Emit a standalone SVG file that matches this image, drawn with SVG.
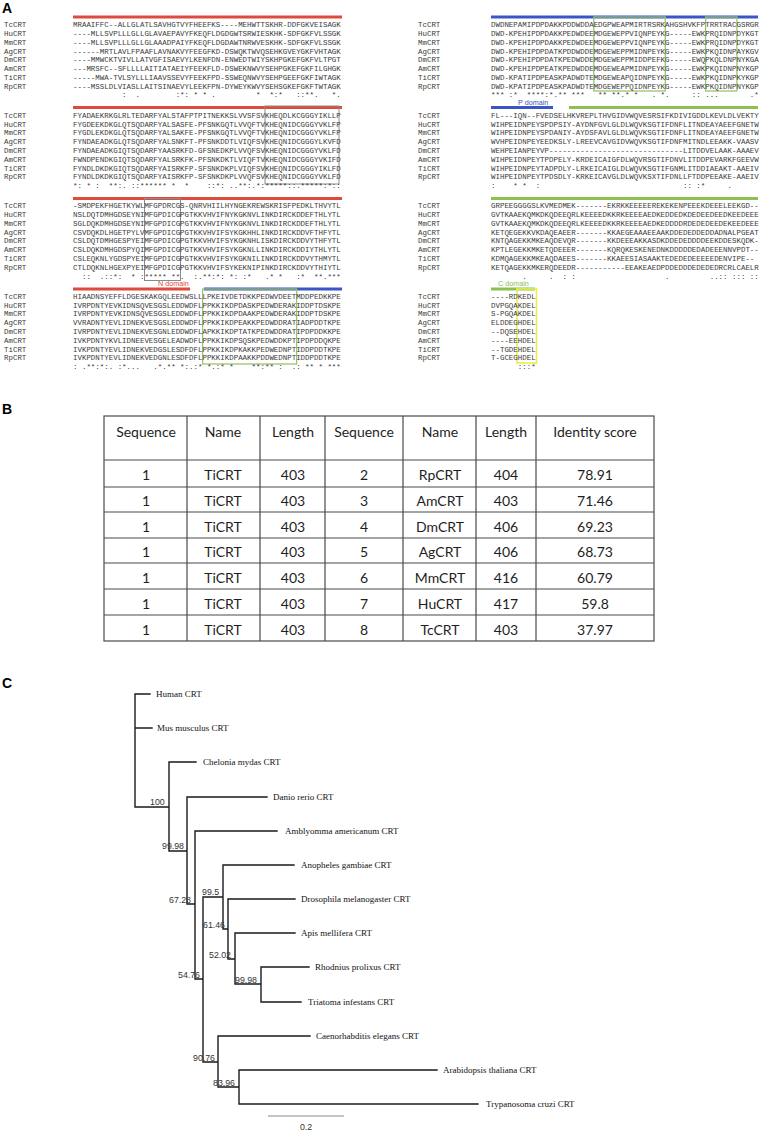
<svg xmlns="http://www.w3.org/2000/svg" width="760" height="1131" viewBox="0 0 760 1131" xml:space="preserve">
<style>
.s{font-family:"Liberation Mono","Courier New",monospace;font-size:7.45px;fill:#3a3a3a;white-space:pre}
.pl{font-family:"Liberation Sans",Arial,sans-serif;font-weight:bold;font-size:14px;fill:#000}
.dl{font-family:"Liberation Sans",Arial,sans-serif;font-size:7.2px}
.t{font-family:Lato,"Liberation Sans",sans-serif;font-size:14px;fill:#1e1e1e;text-anchor:middle}
.tl{stroke:#4a4a4a;stroke-width:1.2;fill:none}
.lf{font-family:"Liberation Serif","Times New Roman",serif;font-size:9px;fill:#111}
.bs{font-family:"Liberation Sans",Arial,sans-serif;font-size:8.8px;fill:#333}
.br{stroke:#1a1a1a;stroke-width:1.4;fill:none;stroke-linecap:square}
.red{fill:#de4a3c}.blue{fill:#3c55c4}.green{fill:#8cc152}
.gbox{fill:none;stroke:#9cc46c;stroke-width:1.3}
.kbox{fill:none;stroke:#8a8a8a;stroke-width:1}
.ybox{fill:none;stroke:#ecec50;stroke-width:1.6}
</style>
<rect width="760" height="1131" fill="#fff"/>

<g id="panelA">
<text class="pl" x="2" y="13">A</text>
<g id="domain-bars">
<rect class="red" x="73" y="15.5" width="269" height="3"/>
<rect class="red" x="73" y="106" width="269" height="3"/>
<rect class="red" x="73" y="197" width="269" height="3"/>
<rect class="red" x="73" y="287.5" width="117" height="3"/>
<rect class="blue" x="204" y="287.5" width="138" height="3"/>
<rect class="blue" x="491" y="15.5" width="267" height="3"/>
<rect class="blue" x="491" y="106" width="62" height="3"/>
<rect class="green" x="569" y="106" width="189" height="3"/>
<rect class="green" x="491" y="197" width="267" height="3"/>
<rect class="green" x="491" y="287.5" width="44" height="3"/>
<text class="dl" x="158" y="286" fill="#de4a3c">N domain</text>
<text class="dl" x="518" y="104.6" fill="#3c55c4">P domain</text>
<text class="dl" x="498" y="286" fill="#8cc152">C domain</text>
</g>
<g id="motif-boxes">
<rect class="kbox" x="265" y="106" width="74" height="78"/>
<rect class="kbox" x="144.5" y="198.5" width="36" height="82"/>
<rect class="gbox" x="202.6" y="289" width="94" height="75"/>
<rect class="gbox" x="593.8" y="17" width="71.5" height="74"/>
<rect class="gbox" x="705.6" y="17" width="31.3" height="74"/>
<rect class="ybox" x="517" y="289" width="19.5" height="74"/>
</g>

<g id="alignL1">
<text class="s" x="4" y="27.2">TcCRT</text><text class="s" x="73" y="27.2">MRAAIFFC--ALLGLATLSAVHGTVYFHEEFKS----MEHWTTSKHR-DDFGKVEISAGK</text>
<text class="s" x="4" y="36">HuCRT</text><text class="s" x="73" y="36">----MLLSVPLLLGLLGLAVAEPAVYFKEQFLDGDGWTSRWIESKHK-SDFGKFVLSSGK</text>
<text class="s" x="4" y="44.8">MmCRT</text><text class="s" x="73" y="44.8">----MLLSVPLLLGLLGLAAADPAIYFKEQFLDGDAWTNRWVESKHK-SDFGKFVLSSGK</text>
<text class="s" x="4" y="53.6">AgCRT</text><text class="s" x="73" y="53.6">------MRTLAVLFPAAFLAVNAKVYFEEGFKD-DSWQKTWVQSEHKGVEYGKFVHTAGK</text>
<text class="s" x="4" y="62.4">DmCRT</text><text class="s" x="73" y="62.4">----MMWCKTVIVLLATVGFISAEVYLKENFDN-ENWEDTWIYSKHPGKEFGKFVLTPGT</text>
<text class="s" x="4" y="71.2">AmCRT</text><text class="s" x="73" y="71.2">---MRSFC--SFLLLLAITIATAEIYFEEKFLD-DSWEKNWVYSEHPGKEFGKFILGHGK</text>
<text class="s" x="4" y="80">TiCRT</text><text class="s" x="73" y="80">-----MWA-TVLSYLLLIAAVSSEVYFEEKFPD-SSWEQNWVYSEHPGEEFGKFIWTAGK</text>
<text class="s" x="4" y="88.8">RpCRT</text><text class="s" x="73" y="88.8">----MSSLDLVIASLLAITSINAEVYLEEKFPN-DYWEYKWVYSEHSGKEFGKFTWTAGK</text>
<text class="s" x="73" y="97">           :  .        :*: * * .         *  *:*   ::**.   *.</text>
</g>

<g id="alignL2">
<text class="s" x="4" y="117.7">TcCRT</text><text class="s" x="73" y="117.7">FYADAEKRKGLRLTEDARFYALSTAFPTPITNEKKSLVVSFSVKHEQDLKCGGGYIKLLP</text>
<text class="s" x="4" y="126.5">HuCRT</text><text class="s" x="73" y="126.5">FYGDEEKDKGLQTSQDARFYALSASFE-PFSNKGQTLVVQFTVKHEQNIDCGGGYVKLFP</text>
<text class="s" x="4" y="135.3">MmCRT</text><text class="s" x="73" y="135.3">FYGDLEKDKGLQTSQDARFYALSAKFE-PFSNKGQTLVVQFTVKHEQNIDCGGGYVKLFP</text>
<text class="s" x="4" y="144.1">AgCRT</text><text class="s" x="73" y="144.1">FYNDAEADKGLQTSQDARFYALSNKFT-PFSNKDDTLVIQFSVKHEQNIDCGGGYLKVFD</text>
<text class="s" x="4" y="152.9">DmCRT</text><text class="s" x="73" y="152.9">FYNDAEADKGIQTSQDARFYAASRKFD-GFSNEDKPLVVQFSVKHEQNIDCGGGYVKLFD</text>
<text class="s" x="4" y="161.7">AmCRT</text><text class="s" x="73" y="161.7">FWNDPENDKGIQTSQDARFYALSRKFK-PFSNKDKTLVIQFTVKHEQNIDCGGGYVKIFD</text>
<text class="s" x="4" y="170.5">TiCRT</text><text class="s" x="73" y="170.5">FYNDLDKDKGIQTSQDARFYAISRKFP-SFSNKDKPLVIQFSVKHEQNIDCGGGYIKLFD</text>
<text class="s" x="4" y="179.3">RpCRT</text><text class="s" x="73" y="179.3">FYNDLDKDKGIQTSQDARFYAISRKFP-SFSNKDKPLVVQFSVKHEQNIDCGGGYVKLFD</text>
<text class="s" x="73" y="188.1">*: * :  **:. ::****** *  *    ::*: ..**:.*:*****::.*****:*::</text>
</g>

<g id="alignL3">
<text class="s" x="4" y="208.2">TcCRT</text><text class="s" x="73" y="208.2">-SMDPEKFHGETKYWLMFGPDRCGS-QNRVHIILHYNGEKREWSKRISFPEDKLTHVYTL</text>
<text class="s" x="4" y="217">HuCRT</text><text class="s" x="73" y="217">NSLDQTDMHGDSEYNIMFGPDICGPGTKKVHVIFNYKGKNVLINKDIRCKDDEFTHLYTL</text>
<text class="s" x="4" y="225.8">MmCRT</text><text class="s" x="73" y="225.8">SGLDQKDMHGDSEYNIMFGPDICGPGTKKVHVIFNYKGKNVLINKDIRCKDDEFTHLYTL</text>
<text class="s" x="4" y="234.6">AgCRT</text><text class="s" x="73" y="234.6">CSVDQKDLHGETPYLVMFGPDICGPGTKKVHVIFSYKGKHHLINKDIRCKDDVFTHFYTL</text>
<text class="s" x="4" y="243.4">DmCRT</text><text class="s" x="73" y="243.4">CSLDQTDMHGESPYEIMFGPDICGPGTKKVHVIFSYKGKNHLISKDIRCKDDVYTHFYTL</text>
<text class="s" x="4" y="252.2">AmCRT</text><text class="s" x="73" y="252.2">CSLDQKDMHGDSPYQIMFGPDICGPGTKKVHVIFSYKGKNLLINKDIRCKDDIYTHLYTL</text>
<text class="s" x="4" y="261">TiCRT</text><text class="s" x="73" y="261">CSLEQKNLYGDSPYEIMFGPDICGPGTKKVHVIFSYKGKNILINKDIRCKDDVYTHMYTL</text>
<text class="s" x="4" y="269.8">RpCRT</text><text class="s" x="73" y="269.8">CTLDQKNLHGEXPYEIMFGPDICGPGTKKVHVIFSYKEKNIPINKDIRCKDDVYTHIYTL</text>
<text class="s" x="73" y="278.6">  ::  .::*:  * :***** **.  :.**:*: *: :*   .* *   :*  **.***</text>
</g>

<g id="alignL4">
<text class="s" x="4" y="298.7">TcCRT</text><text class="s" x="73" y="298.7">HIAADNSYEFFLDGESKAKGQLEEDWSLLLPKEIVDETDKKPEDWVDEETMDDPEDKKPE</text>
<text class="s" x="4" y="307.5">HuCRT</text><text class="s" x="73" y="307.5">IVRPDNTYEVKIDNSQVESGSLEDDWDFLPPKKIKDPDASKPEDWDERAKIDDPTDSKPE</text>
<text class="s" x="4" y="316.3">MmCRT</text><text class="s" x="73" y="316.3">IVRPDNTYEVKIDNSQVESGSLEDDWDFLPPKKIKDPDAAKPEDWDERAKIDDPTDSKPE</text>
<text class="s" x="4" y="325.1">AgCRT</text><text class="s" x="73" y="325.1">VVRADNTYEVLIDNEKVESGSLEDDWDFLPPKKIKDPEAKKPEDWDDRATIADPDDTKPE</text>
<text class="s" x="4" y="333.9">DmCRT</text><text class="s" x="73" y="333.9">IVRPDNTYEVLIDNEKVESGNLEDDWDFLAPKKIKDPTATKPEDWDDRATIPDPDDKKPE</text>
<text class="s" x="4" y="342.7">AmCRT</text><text class="s" x="73" y="342.7">IVKPDNTYKVLIDNEEVESGELEADWDFLPPKKIKDPSQSKPEDWDDKPTIPDPDDQKPE</text>
<text class="s" x="4" y="351.5">TiCRT</text><text class="s" x="73" y="351.5">IVKPDNTYEVLIDNEKVEDGSLESDFDFLPPKKIKDPKAKKPEDWEDNPTIDDPDDTKPE</text>
<text class="s" x="4" y="360.3">RpCRT</text><text class="s" x="73" y="360.3">IVKPDNTYEVLIDNEKVEDGNLESDFDFLPPKKIKDPAAKKPDDWEDNPTIDDPDDTKPE</text>
<text class="s" x="73" y="369.1">: .**:*:. :*...   .*.** *:.:* *.:* *    **:** :  .: ** * ***</text>
</g>

<g id="alignR1">
<text class="s" x="418" y="27.2">TcCRT</text><text class="s" x="491" y="27.2">DWDNEPAMIPDPDAKKPDDWDDAEDGPWEAPMIRTRSRKAHGSHVKFPTRRTRACGSRGR</text>
<text class="s" x="418" y="36">HuCRT</text><text class="s" x="491" y="36">DWD-KPEHIPDPDAKKPEDWDEEMDGEWEPPVIQNPEYKG-----EWKPRQIDNPDYKGT</text>
<text class="s" x="418" y="44.8">MmCRT</text><text class="s" x="491" y="44.8">DWD-KPEHIPDPDAKKPEDWDEEMDGEWEPPVIQNPEYKG-----EWKPRQIDNPDYKGT</text>
<text class="s" x="418" y="53.6">AgCRT</text><text class="s" x="491" y="53.6">DWD-KPEHIPDPDATKPDDWDDEMDGEWEPPMIDNPEYKG-----EWKPKQIDNPAYKGV</text>
<text class="s" x="418" y="62.4">DmCRT</text><text class="s" x="491" y="62.4">DWD-KPEHIPDPDATKPEDWDDEMDGEWEPPMIDDPEFKG-----EWQPKQLDNPNYKGA</text>
<text class="s" x="418" y="71.2">AmCRT</text><text class="s" x="491" y="71.2">DWD-KPEHIPDPEATKPEDWDDEMDGEWEAPMIDNPEYKG-----EWKPKQIDNPNYKGP</text>
<text class="s" x="418" y="80">TiCRT</text><text class="s" x="491" y="80">DWD-KPATIPDPEASKPADWDTEMDGEWEAPQIDNPEYKG-----EWKPKQIDNPKYKGP</text>
<text class="s" x="418" y="88.8">RpCRT</text><text class="s" x="491" y="88.8">DWD-KPATIPDPEASKPADWDTEMDGEWEPPQIDNPEYKG-----EWKPKQIDNPNYKGP</text>
<text class="s" x="491" y="97">*** :*  ****:*.** ***   ** **.* *   . *.     :: ...       .*</text>
</g>

<g id="alignR2">
<text class="s" x="418" y="117.7">TcCRT</text><text class="s" x="491" y="117.7">FL---IQN--FVEDSELHKVREPLTHVGIDVWQVESRSIFKDIVIGDDLKEVLDLVEKTY</text>
<text class="s" x="418" y="126.5">HuCRT</text><text class="s" x="491" y="126.5">WIHPEIDNPEYSPDPSIY-AYDNFGVLGLDLWQVKSGTIFDNFLITNDEAYAEEFGNETW</text>
<text class="s" x="418" y="135.3">MmCRT</text><text class="s" x="491" y="135.3">WIHPEIDNPEYSPDANIY-AYDSFAVLGLDLWQVKSGTIFDNFLITNDEAYAEEFGNETW</text>
<text class="s" x="418" y="144.1">AgCRT</text><text class="s" x="491" y="144.1">WVHPEIDNPEYEEDKSLY-LREEVCAVGIDVWQVKSGTIFDNFMITNDLEEAKK-VAASV</text>
<text class="s" x="418" y="152.9">DmCRT</text><text class="s" x="491" y="152.9">WEHPEIANPEYVP------------------------------LITDDVELAAK-AAAEV</text>
<text class="s" x="418" y="161.7">AmCRT</text><text class="s" x="491" y="161.7">WIHPEIDNPEYTPDPELY-KRDEICAIGFDLWQVRSGTIFDNVLITDDPEVARKFGEEVW</text>
<text class="s" x="418" y="170.5">TiCRT</text><text class="s" x="491" y="170.5">WIHPEIDNPEYTADPDLY-LRKEICAIGLDLWQVKSGTIFGNMLITDDIAEAKT-AAEIV</text>
<text class="s" x="418" y="179.3">RpCRT</text><text class="s" x="491" y="179.3">WIHPEIDNPEYTPDSDLY-KRKEICAVGLDLWQVKSXTIFDNLLFTDDPEEAKE-AAEIV</text>
<text class="s" x="491" y="188.1">:    * *  :                                :: :*     .</text>
</g>

<g id="alignR3">
<text class="s" x="418" y="208.2">TcCRT</text><text class="s" x="491" y="208.2">GRPEEGGGGSLKVMEDMEK-------EKRKKEEEEEREKEKENPEEEKDEEELEEKGD--</text>
<text class="s" x="418" y="217">HuCRT</text><text class="s" x="491" y="217">GVTKAAEKQMKDKQDEEQRLKEEEEDKKRKEEEEAEDKEDDEDKDEDEEDEEDKEEDEEE</text>
<text class="s" x="418" y="225.8">MmCRT</text><text class="s" x="491" y="225.8">GVTKAAEKQMKDKQDEEQRLKEEEEDKKRKEEEEAEDKEDDDDRDEDEDEEDEKEEDEEE</text>
<text class="s" x="418" y="234.6">AgCRT</text><text class="s" x="491" y="234.6">KETQEGEKKVKDAQEAEER-------KKAEGEAAAEEAAKDDEDEDDEDDADNALPGEAT</text>
<text class="s" x="418" y="243.4">DmCRT</text><text class="s" x="491" y="243.4">KNTQAGEKKMKEAQDEVQR-------KKDEEEAKKASDKDDEDEDDDDEEKDDESKQDK-</text>
<text class="s" x="418" y="252.2">AmCRT</text><text class="s" x="491" y="252.2">KPTLEGEKKMKETQDEEER-------KQRQKESKENEDNKDDDDDEDADEEENNVPDT--</text>
<text class="s" x="418" y="261">TiCRT</text><text class="s" x="491" y="261">KDMQAGEKKMKEAQDAEES-------KKAEESIASAAKTEDEDEDEEEEEDENVIPE--</text>
<text class="s" x="418" y="269.8">RpCRT</text><text class="s" x="491" y="269.8">KETQAGEKKMKERQDEEDR-----------EEAKEAEDPDDEDDDEDEDEDRCRLCAELR</text>
<text class="s" x="491" y="278.6">       .     .  : :                    .         ..:: ::: ::</text>
</g>

<g id="alignR4">
<text class="s" x="418" y="298.7">TcCRT</text><text class="s" x="491" y="298.7">----RDKEDL</text>
<text class="s" x="418" y="307.5">HuCRT</text><text class="s" x="491" y="307.5">DVPGQAKDEL</text>
<text class="s" x="418" y="316.3">MmCRT</text><text class="s" x="491" y="316.3">S-PGQAKDEL</text>
<text class="s" x="418" y="325.1">AgCRT</text><text class="s" x="491" y="325.1">ELDDEGHDEL</text>
<text class="s" x="418" y="333.9">DmCRT</text><text class="s" x="491" y="333.9">--DQSEHDEL</text>
<text class="s" x="418" y="342.7">AmCRT</text><text class="s" x="491" y="342.7">----EEHDEL</text>
<text class="s" x="418" y="351.5">TiCRT</text><text class="s" x="491" y="351.5">--TGDEHDEL</text>
<text class="s" x="418" y="360.3">RpCRT</text><text class="s" x="491" y="360.3">T-GCEGHDEL</text>
<text class="s" x="491" y="369.1">      :::*</text>
</g>
</g>

<g id="panelB">
<text class="pl" x="2" y="414">B</text>
<g id="table-grid">
<rect class="tl" x="104" y="416" width="550" height="225"/>
<path class="tl" d="M187 416V641M260 416V641M325 416V641M403 416V641M476 416V641M536 416V641M104 460H654M104 487H654M104 512H654M104 538H654M104 563H654M104 589H654M104 615H654"/>
</g>
<g id="table-header">
<text class="t" x="146" y="437">Sequence</text><text class="t" x="223" y="437">Name</text><text class="t" x="293" y="437">Length</text><text class="t" x="364" y="437">Sequence</text><text class="t" x="440" y="437">Name</text><text class="t" x="506" y="437">Length</text><text class="t" x="595" y="437">Identity score</text>
</g>
<g id="table-rows">
<text class="t" x="146" y="480">1</text><text class="t" x="223" y="480">TiCRT</text><text class="t" x="293" y="480">403</text><text class="t" x="364" y="480">2</text><text class="t" x="440" y="480">RpCRT</text><text class="t" x="506" y="480">404</text><text class="t" x="595" y="480">78.91</text>
<text class="t" x="146" y="506">1</text><text class="t" x="223" y="506">TiCRT</text><text class="t" x="293" y="506">403</text><text class="t" x="364" y="506">3</text><text class="t" x="440" y="506">AmCRT</text><text class="t" x="506" y="506">403</text><text class="t" x="595" y="506">71.46</text>
<text class="t" x="146" y="531.5">1</text><text class="t" x="223" y="531.5">TiCRT</text><text class="t" x="293" y="531.5">403</text><text class="t" x="364" y="531.5">4</text><text class="t" x="440" y="531.5">DmCRT</text><text class="t" x="506" y="531.5">406</text><text class="t" x="595" y="531.5">69.23</text>
<text class="t" x="146" y="557">1</text><text class="t" x="223" y="557">TiCRT</text><text class="t" x="293" y="557">403</text><text class="t" x="364" y="557">5</text><text class="t" x="440" y="557">AgCRT</text><text class="t" x="506" y="557">406</text><text class="t" x="595" y="557">68.73</text>
<text class="t" x="146" y="582.5">1</text><text class="t" x="223" y="582.5">TiCRT</text><text class="t" x="293" y="582.5">403</text><text class="t" x="364" y="582.5">6</text><text class="t" x="440" y="582.5">MmCRT</text><text class="t" x="506" y="582.5">416</text><text class="t" x="595" y="582.5">60.79</text>
<text class="t" x="146" y="608.5">1</text><text class="t" x="223" y="608.5">TiCRT</text><text class="t" x="293" y="608.5">403</text><text class="t" x="364" y="608.5">7</text><text class="t" x="440" y="608.5">HuCRT</text><text class="t" x="506" y="608.5">417</text><text class="t" x="595" y="608.5">59.8</text>
<text class="t" x="146" y="634.5">1</text><text class="t" x="223" y="634.5">TiCRT</text><text class="t" x="293" y="634.5">403</text><text class="t" x="364" y="634.5">8</text><text class="t" x="440" y="634.5">TcCRT</text><text class="t" x="506" y="634.5">403</text><text class="t" x="595" y="634.5">37.97</text>
</g>
</g>

<g id="panelC">
<text class="pl" x="2" y="688">C</text>
<g id="connectors">
<path class="br" d="M135 694V807M135 694H150M135 728H152M135 807H169M169 762V851M169 762H196M169 851H187M187 797V904M187 797H267M187 904H195M195 831V979M195 831H277M195 979H203M203 897V1062M203 897H223M223 865V929M223 865H294M223 929H228M228 899V959M228 899H295M228 959H235M235 933V984M235 933H295M235 984H261M261 967V1002M261 967H309M261 1002H301M203 1062H218M218 1036V1087M218 1036H310M218 1087H239M239 1070V1104M239 1070H437M239 1104H478"/>
</g>
<g id="bootstrap">
<text class="bs" x="150" y="805">100</text>
<text class="bs" x="162" y="849">99.98</text>
<text class="bs" x="169" y="902.5">67.28</text>
<text class="bs" x="202" y="895">99.5</text>
<text class="bs" x="203" y="927.5">61.46</text>
<text class="bs" x="209" y="957.5">52.02</text>
<text class="bs" x="178" y="977.5">54.76</text>
<text class="bs" x="235" y="982.5">99.98</text>
<text class="bs" x="193" y="1060.5">90.76</text>
<text class="bs" x="213" y="1085.5">83.96</text>
</g>
<g id="leaf-human"><text class="lf" x="156" y="697">Human CRT</text></g>
<g id="leaf-mus"><text class="lf" x="157" y="731">Mus musculus CRT</text></g>
<g id="leaf-chelonia"><text class="lf" x="203" y="765">Chelonia mydas CRT</text></g>
<g id="leaf-danio"><text class="lf" x="273" y="800">Danio rerio CRT</text></g>
<g id="leaf-amblyomma"><text class="lf" x="285" y="834">Amblyomma americanum CRT</text></g>
<g id="leaf-anopheles"><text class="lf" x="301" y="868">Anopheles gambiae CRT</text></g>
<g id="leaf-drosophila"><text class="lf" x="301" y="902">Drosophila melanogaster CRT</text></g>
<g id="leaf-apis"><text class="lf" x="301" y="936">Apis mellifera CRT</text></g>
<g id="leaf-rhodnius"><text class="lf" x="315" y="970">Rhodnius prolixus CRT</text></g>
<g id="leaf-triatoma"><text class="lf" x="308" y="1005">Triatoma infestans CRT</text></g>
<g id="leaf-caenorhabditis"><text class="lf" x="316" y="1039">Caenorhabditis elegans CRT</text></g>
<g id="leaf-arabidopsis"><text class="lf" x="443" y="1073">Arabidopsis thaliana CRT</text></g>
<g id="leaf-trypanosoma"><text class="lf" x="486" y="1107">Trypanosoma cruzi CRT</text></g>
<g id="scale">
<path d="M268 1116H344" stroke="#8a8a8a" stroke-width="1.2"/>
<text class="bs" x="306" y="1129.5" text-anchor="middle">0.2</text>
</g>
</g>
</svg>
